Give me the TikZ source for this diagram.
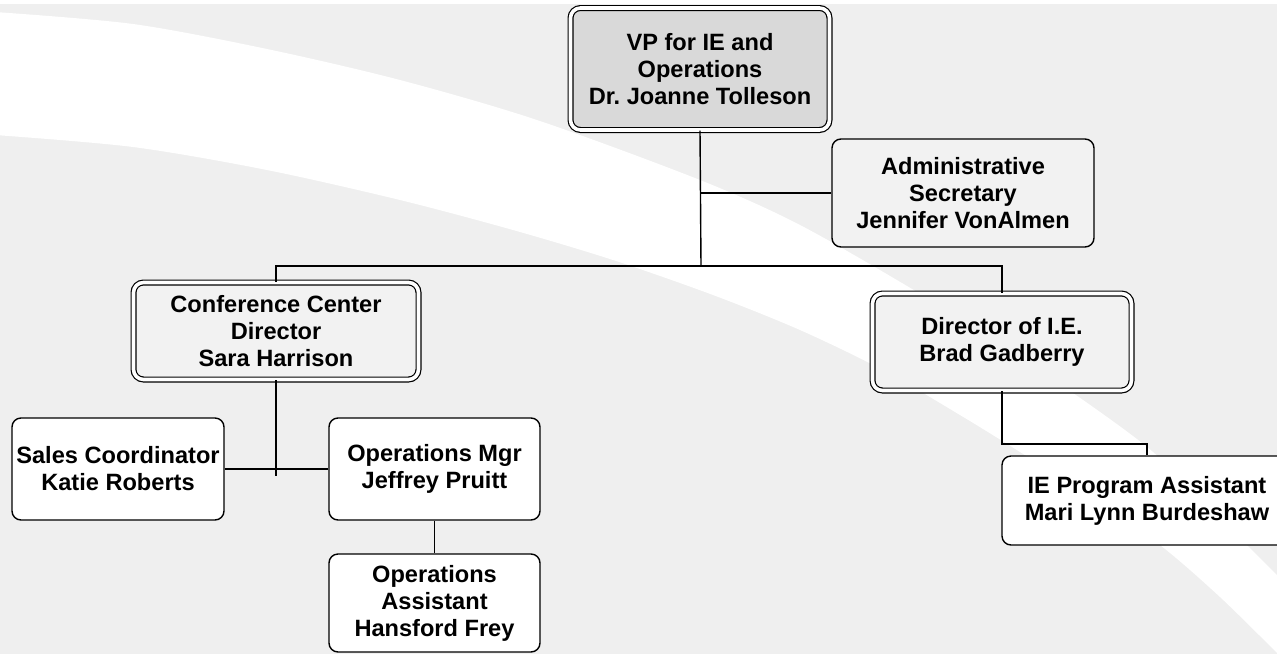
\documentclass[tikz,border=0pt]{standalone}
\usepackage{fontspec}
\setmainfont{Liberation Sans}
\usepackage{tikz}
\usetikzlibrary{positioning, calc}
\definecolor{bggray}{RGB}{239,239,239}
\definecolor{vpgray}{RGB}{217,217,217}
\definecolor{boxgray}{RGB}{242,242,242}
\frenchspacing

\begin{document}
\begin{tikzpicture}[
    x=1pt, y=-1pt,
    txt/.style={align=center, font=\fontsize{23.6}{27}\selectfont\bfseries, inner sep=0pt},
    head/.style={txt, rectangle, rounded corners=10pt, draw=black, line width=1.2pt, double=white, double distance=3.6pt, fill=boxgray},
    staff/.style={txt, rectangle, rounded corners=9pt, draw=black, line width=1.4pt, fill=white},
    link/.style={black, line width=1.4pt}
]

\useasboundingbox (0,0) rectangle (1277,654);
\clip (0,0) rectangle (1277,654);

% Background swoosh
\fill[bggray] (0,4) rectangle (1277,654);
\fill[white] plot[smooth] coordinates {(-5,12) (133,24) (267,49) (400,80) (537,120) (700,180) (800,225) (917,292) (1000,345) (1073,393) (1147,447) (1210,505) (1247,545) (1290,588)}
    -- (1300,680)
    -- plot[smooth] coordinates {(1277,653) (1220,597) (1160,545) (1090,497) (1020,452) (960,415) (883,370) (800,330) (713,295) (613,260) (513,230) (400,200) (267,170) (133,147) (-5,135)}
    -- cycle;

% VP
\node[head, fill=vpgray, minimum width=259pt, minimum height=122pt] (vp) at (700,69) {VP for IE and\\Operations\\Dr. Joanne Tolleson};

% Secretary
\node[staff, fill=boxgray, minimum width=262pt, minimum height=108pt] (admin) at (963,193) {Administrative\\Secretary\\Jennifer VonAlmen};

% Directors
\node[head, minimum width=285pt, minimum height=97pt] (ccd) at (276,331) {Conference Center\\Director\\Sara Harrison};
\node[head, minimum width=259pt, minimum height=97pt] (die) at (1002,342) {Director of I.E.\\Brad Gadberry};

% Staff
\node[staff, minimum width=212pt, minimum height=102pt] (sales) at (118,469) {Sales Coordinator\\Katie Roberts};
\node[staff, minimum width=211pt, minimum height=102pt] (opsmgr) at (434.5,469) {Operations Mgr\\Jeffrey Pruitt};
\node[staff, minimum width=211pt, minimum height=98pt] (opsasst) at (434.5,603) {Operations\\Assistant\\Hansford Frey};
\node[staff, minimum width=290pt, minimum height=89pt] (iea) at (1147,500.5) {IE Program Assistant\\Mari Lynn Burdeshaw};

% Lines
\coordinate (hub) at (701,266);
\coordinate (ccdend) at (276,476);
\coordinate (ieturn) at (1147,444);

\draw[link] (vp.south) -- (hub);
\draw[link] (vp.south |- admin.west) -- (admin.west);
\draw[link] (ccd.north) |- (hub) -| (die.north);
\draw[link] (ccd.south) -- (ccdend);
\draw[link] (sales.east) -- (opsmgr.west);
\draw[link] (opsmgr.south) -- (opsasst.north);
\draw[link] (die.south) |- (ieturn) -- (iea.north);

\end{tikzpicture}
\end{document}
